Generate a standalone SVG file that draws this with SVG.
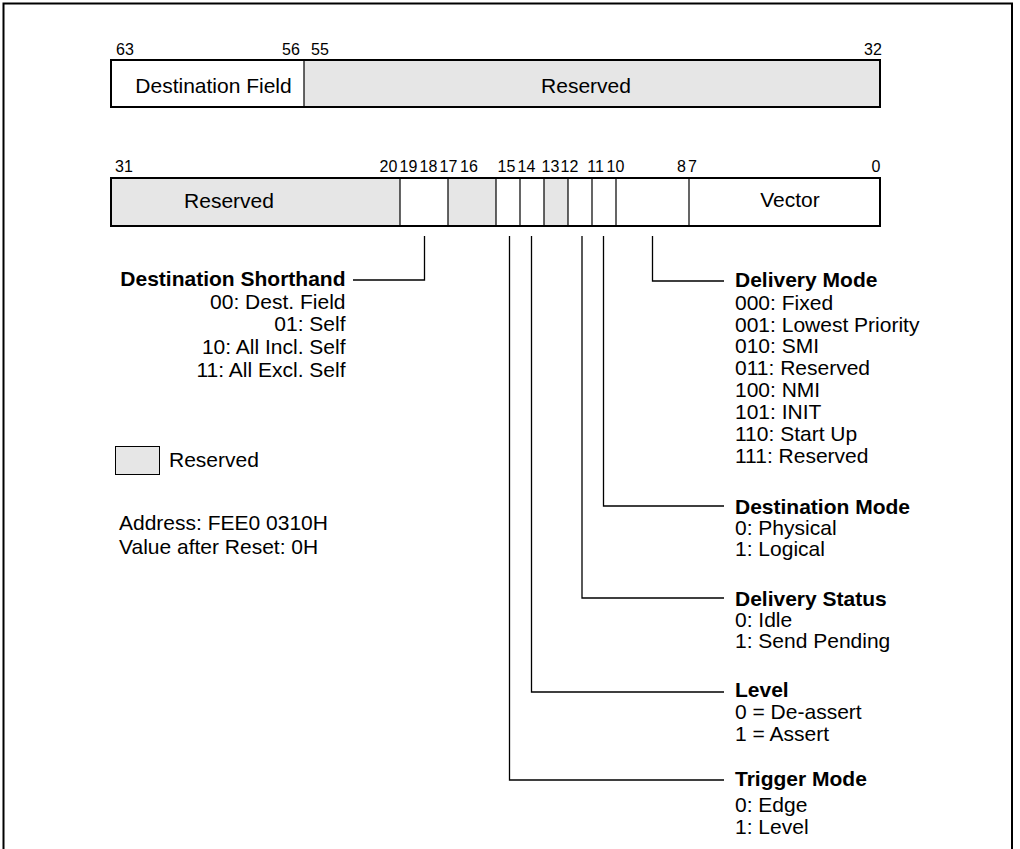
<svg xmlns="http://www.w3.org/2000/svg" width="1020" height="849" viewBox="0 0 1020 849">
<style>
text{font-family:"Liberation Sans",Arial,sans-serif;fill:#000}
.bit{font-size:16px;text-anchor:middle}
.lbl{font-size:21px}
.mid{text-anchor:middle}
.end{text-anchor:end}
.b{font-weight:bold}
.res{fill:#e6e6e6}
.wht{fill:#fff}
.frame{fill:none;stroke:#000;stroke-width:2}
.div{stroke:#000;stroke-width:1.2;fill:none}
.con{stroke:#000;stroke-width:1.3;fill:none}
</style>
<rect x="0" y="0" width="1020" height="849" fill="#fff"/>
<rect x="3.5" y="3.5" width="1008.5" height="900" fill="none" stroke="#000" stroke-width="2"/>

<g id="reg-high">
  <g id="f-dest-field">
    <rect class="wht" x="111" y="60" width="193" height="47"/>
    <text class="lbl mid" x="213.5" y="92.5">Destination Field</text>
  </g>
  <g id="f-reserved-high">
    <rect class="res" x="304" y="60" width="576" height="47"/>
    <text class="lbl mid" x="586" y="92.5">Reserved</text>
  </g>
  <line class="div" x1="304" y1="60" x2="304" y2="107"/>
  <rect class="frame" x="111" y="60" width="769" height="47"/>
  <text class="bit" x="125" y="54.5">63</text>
  <text class="bit" x="291" y="54.5">56</text>
  <text class="bit" x="320" y="54.5">55</text>
  <text class="bit" x="873" y="54.5">32</text>
</g>

<g id="reg-low">
  <g id="f-reserved-low">
    <rect class="res" x="111" y="178" width="289" height="48"/>
    <text class="lbl mid" x="229" y="207.5">Reserved</text>
  </g>
  <g id="f-shorthand"><rect class="wht" x="400" y="178" width="48" height="48"/></g>
  <g id="f-res-17-16"><rect class="res" x="448" y="178" width="48" height="48"/></g>
  <g id="f-trigger"><rect class="wht" x="496" y="178" width="24" height="48"/></g>
  <g id="f-level"><rect class="wht" x="520" y="178" width="24" height="48"/></g>
  <g id="f-res-13"><rect class="res" x="544" y="178" width="24" height="48"/></g>
  <g id="f-status"><rect class="wht" x="568" y="178" width="24" height="48"/></g>
  <g id="f-destmode"><rect class="wht" x="592" y="178" width="24" height="48"/></g>
  <g id="f-delmode"><rect class="wht" x="616" y="178" width="73" height="48"/></g>
  <g id="f-vector">
    <rect class="wht" x="689" y="178" width="191" height="48"/>
    <text class="lbl mid" x="790" y="206.5">Vector</text>
  </g>
  <path class="div" d="M400 178V226M448 178V226M496 178V226M520 178V226M544 178V226M568 178V226M592 178V226M616 178V226M689 178V226"/>
  <rect class="frame" x="111" y="178" width="769" height="48"/>
  <text class="bit" x="124" y="171.5">31</text>
  <text class="bit" x="388.5" y="171.5">20</text>
  <text class="bit" x="408.5" y="171.5">19</text>
  <text class="bit" x="428.5" y="171.5">18</text>
  <text class="bit" x="448.5" y="171.5">17</text>
  <text class="bit" x="469" y="171.5">16</text>
  <text class="bit" x="506.5" y="171.5">15</text>
  <text class="bit" x="526.5" y="171.5">14</text>
  <text class="bit" x="550.5" y="171.5">13</text>
  <text class="bit" x="569.5" y="171.5">12</text>
  <text class="bit" x="595.5" y="171.5">11</text>
  <text class="bit" x="615.5" y="171.5">10</text>
  <text class="bit" x="681.5" y="171.5">8</text>
  <text class="bit" x="692.5" y="171.5">7</text>
  <text class="bit" x="876" y="171.5">0</text>
</g>

<g id="connectors">
  <polyline class="con" points="424.5,236 424.5,280 353,280"/>
  <polyline class="con" points="652.5,236 652.5,281 724,281"/>
  <polyline class="con" points="603.5,236 603.5,506 724,506"/>
  <polyline class="con" points="582,236 582,598 724,598"/>
  <polyline class="con" points="531.5,236 531.5,692 724,692"/>
  <polyline class="con" points="509.5,236 509.5,780 724,780"/>
</g>

<g id="n-dest-shorthand" class="lbl">
  <text class="end b" x="345.5" y="285.5">Destination Shorthand</text>
  <text class="end" x="345.5" y="309">00: Dest. Field</text>
  <text class="end" x="345.5" y="331">01: Self</text>
  <text class="end" x="345.5" y="354">10: All Incl. Self</text>
  <text class="end" x="345.5" y="377">11: All Excl. Self</text>
</g>

<g id="n-legend">
  <rect class="res" x="115.5" y="446.5" width="44" height="28" stroke="#000" stroke-width="1"/>
  <text class="lbl" x="169" y="467">Reserved</text>
</g>

<g id="n-address" class="lbl">
  <text x="119" y="530">Address: FEE0 0310H</text>
  <text x="119" y="554">Value after Reset: 0H</text>
</g>

<g id="n-delivery-mode" class="lbl">
  <text class="b" x="735" y="287">Delivery Mode</text>
  <text x="735" y="310">000: Fixed</text>
  <text x="735" y="331.5">001: Lowest Priority</text>
  <text x="735" y="353">010: SMI</text>
  <text x="735" y="375">011: Reserved</text>
  <text x="735" y="397">100: NMI</text>
  <text x="735" y="419">101: INIT</text>
  <text x="735" y="441">110: Start Up</text>
  <text x="735" y="463">111: Reserved</text>
</g>

<g id="n-destination-mode" class="lbl">
  <text class="b" x="735" y="513.5">Destination Mode</text>
  <text x="735" y="535">0: Physical</text>
  <text x="735" y="556">1: Logical</text>
</g>

<g id="n-delivery-status" class="lbl">
  <text class="b" x="735" y="606">Delivery Status</text>
  <text x="735" y="627">0: Idle</text>
  <text x="735" y="648">1: Send Pending</text>
</g>

<g id="n-level" class="lbl">
  <text class="b" x="735" y="697">Level</text>
  <text x="735" y="718.5">0 = De-assert</text>
  <text x="735" y="741">1 = Assert</text>
</g>

<g id="n-trigger-mode" class="lbl">
  <text class="b" x="735" y="786">Trigger Mode</text>
  <text x="735" y="812">0: Edge</text>
  <text x="735" y="834">1: Level</text>
</g>
</svg>
